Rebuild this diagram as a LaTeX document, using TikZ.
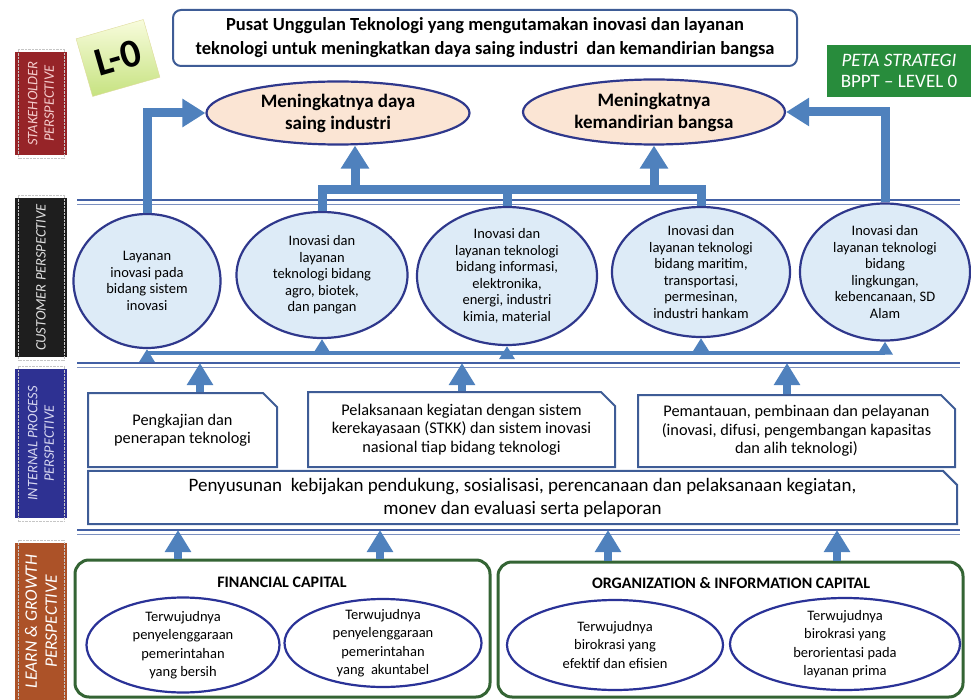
\documentclass[tikz,border=0pt]{standalone}
\usepackage{fontspec}
\setmainfont{Carlito}
\usetikzlibrary{positioning,shapes.geometric,shapes.misc,arrows.meta}
\definecolor{arrowblue}{RGB}{79,129,189}
\definecolor{rimblue}{RGB}{47,56,140}
\definecolor{boxblue}{RGB}{62,92,150}
\definecolor{sepblue}{RGB}{66,96,165}
\definecolor{peach}{RGB}{251,229,212}
\definecolor{paleblue}{RGB}{221,235,247}
\definecolor{rimgreen}{RGB}{52,100,52}
\definecolor{stakered}{RGB}{150,36,40}
\definecolor{custblack}{RGB}{30,30,30}
\definecolor{procblue}{RGB}{46,49,146}
\definecolor{learnbrown}{RGB}{172,82,40}
\definecolor{petagreen}{RGB}{40,140,60}
\definecolor{limelight}{RGB}{248,252,220}
\definecolor{limedark}{RGB}{198,226,128}

\begin{document}
\begin{tikzpicture}
  [
  x=1pt,y=-1pt,
  sidebar/.style={rectangle,rotate=90,inner sep=0pt,align=center,minimum height=52pt,
    font=\fontsize{14.5}{16.5}\selectfont\itshape},
  goal/.style={ellipse,draw=rimblue,fill=peach,line width=2.2pt,inner sep=0pt,align=center,
    font=\fontsize{19}{22}\selectfont\bfseries},
  cust/.style={ellipse,draw=rimblue,fill=paleblue,line width=2.2pt,inner sep=-4pt,align=center,
    font=\fontsize{14.5}{16.5}\selectfont},
  proc/.style={chamfered rectangle,chamfered rectangle corners=north east,
    chamfered rectangle xsep=7pt,chamfered rectangle ysep=7pt,
    draw=boxblue,fill=white,line width=2pt,inner sep=0pt,align=center,
    font=\fontsize{16.3}{18.5}\selectfont},
  capframe/.style={rectangle,rounded corners=14pt,draw=rimgreen,fill=white,line width=3pt},
  captitle/.style={font=\fontsize{16}{18}\selectfont\bfseries},
  capgoal/.style={ellipse,draw=rimblue!90!blue,fill=white,line width=2.2pt,inner sep=-6pt,
    align=center,font=\fontsize{14.5}{18.5}\selectfont},
  sepline/.style={draw=sepblue,line width=2.2pt},
  septhin/.style={draw=sepblue!70,line width=0.8pt},
  bigline/.style={draw=arrowblue,line width=9pt},
  bigarrow/.style={bigline,-{Triangle[width=27pt,length=23pt]}},
  midarrow/.style={draw=arrowblue,line width=8pt,-{Triangle[width=25pt,length=22pt]}},
  smallline/.style={draw=arrowblue,line width=4pt},
  smallarrow/.style={smallline,-{Triangle[width=15pt,length=13pt]}}
  ]
  \useasboundingbox (0,0) rectangle (971,700);

  \draw [sepline] (77,200) -- (960,200);
  \draw [septhin] (77,204) -- (960,204);
  \draw [sepline] (77,363) -- (960,363);
  \draw [septhin] (77,367) -- (960,367);
  \draw [sepline] (77,530) -- (960,530);
  \draw [septhin] (77,534) -- (960,534);

  \node (stk) [sidebar,fill=stakered,text={rgb,255:red,245;green,205;blue,205},
    minimum width=103pt] at (41,103.5) {STAKEHOLDER\\PERSPECTIVE};
  \node (cus) [sidebar,fill=custblack,text=gray!25,minimum width=159pt]
    at (41,277.5) {CUSTOMER PERSPECTIVE};
  \node (ipp) [sidebar,fill=procblue,text={rgb,255:red,215;green,215;blue,240},
    minimum width=149pt] at (41,443.5) {INTERNAL PROCESS\\PERSPECTIVE};
  \node (lgp) [sidebar,fill=learnbrown,text=white,minimum width=157pt,
    font=\fontsize{17.5}{20}\selectfont\itshape] at (41,621.5) {LEARN \& GROWTH\\PERSPECTIVE};
  \foreach \bar in {stk,cus,ipp,lgp}
    \draw [gray!45,densely dotted] ([shift={(-3pt,-3pt)}]\bar.south west) rectangle
      ([shift={(3pt,3pt)}]\bar.north east);

  \node (lzero) [rectangle,rotate=16,minimum width=70pt,minimum height=60pt,draw=olive!30,
    top color=limelight,bottom color=limedark,font=\fontsize{40}{40}\selectfont\bfseries]
    at (118,58) {L-0};
  \node (vision) [rectangle,rounded corners=8pt,draw=boxblue,line width=2pt,
    minimum width=624pt,minimum height=56pt,align=center,
    font=\fontsize{18.5}{24}\selectfont\bfseries] at (485,38) {
    Pusat Unggulan Teknologi yang mengutamakan inovasi dan layanan\\
    teknologi untuk meningkatkan daya saing industri\ \ dan kemandirian bangsa
  };
  \node (peta) [rectangle,fill=petagreen,text=white,minimum width=144pt,minimum height=52pt,
    align=center,font=\fontsize{19}{21}\selectfont] at (899,71) {
    {\itshape PETA STRATEGI}\\BPPT -- LEVEL 0
  };

  \node (s1) [goal,minimum width=263pt,minimum height=63pt] at (338,113)
    {Meningkatnya daya\\saing industri};
  \node (s2) [goal,minimum width=262pt,minimum height=65pt] at (654,112)
    {Meningkatnya\\kemandirian bangsa};

  \node (c1) [cust,minimum width=147pt,minimum height=134pt] at (147,281)
    {Layanan\\inovasi pada\\bidang sistem\\inovasi};
  \node (c2) [cust,minimum width=171pt,minimum height=126pt] at (322,275)
    {Inovasi dan\\layanan\\teknologi bidang\\agro, biotek,\\dan pangan};
  \node (c3) [cust,minimum width=180pt,minimum height=138pt] at (507,276)
    {Inovasi dan\\layanan teknologi\\bidang informasi,\\elektronika,\\energi, industri\\kimia, material};
  \node (c4) [cust,minimum width=178pt,minimum height=130pt] at (701,272)
    {Inovasi dan\\layanan teknologi\\bidang maritim,\\transportasi,\\permesinan,\\industri hankam};
  \node (c5) [cust,minimum width=170pt,minimum height=137pt] at (885,272)
    {Inovasi dan\\layanan teknologi\\bidang\\lingkungan,\\kebencanaan, SD\\Alam};

  \node (b1) [proc,minimum width=189pt,minimum height=74pt] at (182.5,430)
    {Pengkajian dan\\penerapan teknologi};
  \node (b2) [proc,minimum width=307pt,minimum height=75pt] at (461.5,429.5)
    {Pelaksanaan kegiatan dengan sistem\\kerekayasaan (STKK) dan sistem inovasi\\nasional tiap bidang teknologi};
  \node (b3) [proc,minimum width=317pt,minimum height=72pt] at (796.5,431)
    {Pemantauan, pembinaan dan pelayanan\\(inovasi, difusi, pengembangan kapasitas\\dan alih teknologi)};
  \node (b4) [proc,minimum width=869pt,minimum height=49pt,
    font=\fontsize{19}{23}\selectfont] at (522.5,497.5)
    {Penyusunan\ \ kebijakan pendukung, sosialisasi, perencanaan dan pelaksanaan kegiatan,\\
    monev dan evaluasi serta pelaporan};

  \node (g1) [capframe,minimum width=415pt,minimum height=137pt] at (282.5,628.5) {};
  \node (g2) [capframe,minimum width=465pt,minimum height=135pt] at (730.5,629.5) {};
  \node (g1t) [captitle] at (282,582) {FINANCIAL CAPITAL};
  \node (g2t) [captitle] at (731,583) {ORGANIZATION \& INFORMATION CAPITAL};
  \node (l1) [capgoal,minimum width=193pt,minimum height=95pt] at (183,645)
    {Terwujudnya\\penyelenggaraan\\pemerintahan\\yang bersih};
  \node (l2) [capgoal,minimum width=197pt,minimum height=88pt] at (383,643)
    {Terwujudnya\\penyelenggaraan\\pemerintahan\\yang\ \ akuntabel};
  \node (l3) [capgoal,minimum width=216pt,minimum height=90pt] at (615,645)
    {Terwujudnya\\birokrasi yang\\efektif dan efisien};
  \node (l4) [capgoal,minimum width=230pt,minimum height=92pt] at (845,644)
    {Terwujudnya\\birokrasi yang\\berorientasi pada\\layanan prima};

  \coordinate (tee) at (0,190);
  \coordinate (rise1) at (355,190);
  \coordinate (foot) at (0,353);
  \draw [bigarrow] (c1.north) |- (s1.west);
  \draw [bigarrow] (c5.north) |- (s2.east);
  \draw [bigline] (c2.north) -- (c2.north |- tee) -- (c4.north |- tee) -- (c4.north);
  \draw [bigline] (c3.north) -- (c3.north |- tee);
  \draw [bigarrow] (rise1) -- (rise1 |- s1.south);
  \draw [bigarrow] (s2.south |- tee) -- (s2.south);

  \draw [smallline] (c1.south |- foot) -- (c5.south |- foot);
  \draw [smallarrow] (c1.south |- foot) -- (c1.south);
  \draw [smallarrow] (c2.south |- foot) -- (c2.south);
  \draw [smallarrow] (c3.south |- foot) -- (c3.south);
  \draw [smallarrow] (c4.south |- foot) -- (c4.south);
  \draw [smallarrow] (c5.south |- foot) -- (c5.south);

  \coordinate (up1) at (200,363);
  \coordinate (up2) at (462,363);
  \coordinate (up3) at (787,363);
  \draw [midarrow] (up1 |- b1.north) -- (up1);
  \draw [midarrow] (up2 |- b2.north) -- (up2);
  \draw [midarrow] (up3 |- b3.north) -- (up3);

  \coordinate (lift1) at (178,530);
  \coordinate (lift2) at (380,530);
  \coordinate (lift3) at (608,530);
  \coordinate (lift4) at (837,530);
  \draw [midarrow] (lift1 |- g1.north) -- (lift1);
  \draw [midarrow] (lift2 |- g1.north) -- (lift2);
  \draw [midarrow] (lift3 |- g2.north) -- (lift3);
  \draw [midarrow] (lift4 |- g2.north) -- (lift4);
\end{tikzpicture}
\end{document}
